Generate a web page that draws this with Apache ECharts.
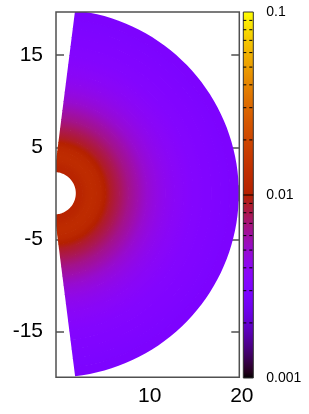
<!DOCTYPE html>
<html><head><meta charset="utf-8">
<script src="https://cdn.jsdelivr.net/npm/echarts@6/dist/echarts.min.js"></script>
<style>html,body{margin:0;padding:0;background:#fff}#c{width:309px;height:414px}</style>
</head><body><div id="c"></div>
<script>
// Radial profile of the field: boundary radii (plot units) and the value at each radius
const radii  = [2.3, 3.0, 3.5, 4.0, 4.5, 5.0, 5.5, 6.0, 7.0, 8.0, 9.0, 10, 11, 12, 13, 14, 15, 16, 17, 18, 19, 20];
const values = [0.0108, 0.0115, 0.0125, 0.0128, 0.0125, 0.0117, 0.0100, 0.0090, 0.0078, 0.0066, 0.0058, 0.0050, 0.0045, 0.0041, 0.0038, 0.0036, 0.0034, 0.0033, 0.0032, 0.0031, 0.0030, 0.0030];
// Wedge left edge (straight line), two points in plot units
const edgeBase = [0, 2.3];
const edgeTop  = [2.2, 19.7];
// Tick labels
const xTicks = [10, 20];
const yTicks = [-15, -5, 5, 15];
const cbTicks = [0.001, 0.01, 0.1];
const cbMinor = [0.002, 0.003, 0.004, 0.005, 0.006, 0.007, 0.008, 0.009, 0.02, 0.03, 0.04, 0.05, 0.06, 0.07, 0.08, 0.09];
const cbRange = [0.001, 0.1];

const FONT = "'Liberation Sans', Arial, sans-serif";
const BORDER = '#505050';

// gnuplot default palette (rgbformulae 7,5,15) on a log10 colour scale
function pal(v) {
  let x = (Math.log10(v) - Math.log10(cbRange[0])) / (Math.log10(cbRange[1]) - Math.log10(cbRange[0]));
  x = Math.max(0, Math.min(1, x));
  const r = Math.sqrt(x), g = x * x * x, b = Math.max(0, Math.sin(2 * Math.PI * x));
  return 'rgb(' + Math.round(r * 255) + ',' + Math.round(g * 255) + ',' + Math.round(b * 255) + ')';
}

function edgeAngle(r) {
  const k = (edgeTop[0] - edgeBase[0]) / (edgeTop[1] - edgeBase[1]);
  const y0 = edgeBase[1];
  if (r <= y0) return Math.PI / 2;
  const a = 1 + k * k, b = -2 * k * k * y0, c = k * k * y0 * y0 - r * r;
  const y = (-b + Math.sqrt(b * b - 4 * a * c)) / (2 * a);
  const x = k * (y - y0);
  return Math.atan2(y, x);
}

function ringItem(params, api) {
  const i = params.dataIndex;
  const rIn = radii[i];
  const rOutTrue = radii[i + 1];
  const last = i === radii.length - 2;
  const rOut = last ? rOutTrue : rOutTrue + 0.08;
  const tIn = edgeAngle(rIn), tOut = edgeAngle(rOut);
  const pts = [];
  const N = 72;
  for (let j = 0; j <= N; j++) {
    const th = -tOut + 2 * tOut * j / N;
    pts.push(api.coord([rOut * Math.cos(th), rOut * Math.sin(th)]));
  }
  for (let j = 0; j <= N; j++) {
    const th = tIn - 2 * tIn * j / N;
    pts.push(api.coord([rIn * Math.cos(th), rIn * Math.sin(th)]));
  }
  const c = api.coord([0, 0]);
  const rPx = api.size([rOut, 0])[0];
  const vIn = values[i], vOut = values[i + 1];
  const stops = [];
  const M = 4;
  for (let m = 0; m <= M; m++) {
    const t = m / M;
    const rr = rIn + (rOutTrue - rIn) * t;
    const vv = Math.exp(Math.log(vIn) + (Math.log(vOut) - Math.log(vIn)) * t);
    stops.push({ offset: rr / rOut, color: pal(vv) });
  }
  if (!last) stops.push({ offset: 1, color: pal(vOut) });
  return {
    type: 'polygon',
    shape: { points: pts },
    style: { fill: { type: 'radial', x: c[0], y: c[1], r: rPx, global: true, colorStops: stops } }
  };
}

function cbBarItem(params, api) {
  const p0 = api.coord([0, cbRange[1]]);
  const p1 = api.coord([1, cbRange[0]]);
  const stops = [];
  const S = 60;
  const l0 = Math.log10(cbRange[0]), l1 = Math.log10(cbRange[1]);
  for (let s = 0; s <= S; s++) {
    const t = s / S;
    stops.push({ offset: t, color: pal(Math.pow(10, l1 - (l1 - l0) * t)) });
  }
  return {
    type: 'rect',
    shape: { x: p0[0], y: p0[1], width: p1[0] - p0[0], height: p1[1] - p0[1] },
    style: { fill: { type: 'linear', x: 0, y: 0, x2: 0, y2: 1, colorStops: stops }, stroke: '#303030', lineWidth: 1 }
  };
}

function cbLineItem(dashed) {
  return function (params, api) {
    const v = api.value(0);
    const a = api.coord([0, v]), b = api.coord([1, v]);
    return {
      type: 'line',
      shape: { x1: a[0], y1: a[1], x2: b[0], y2: b[1] },
      style: { stroke: '#000', lineWidth: 1, lineDash: dashed ? [3, 3] : null }
    };
  };
}

const tickStyle = { color: BORDER, width: 1.5 };
const chart = echarts.init(document.getElementById('c'), null, { renderer: 'canvas' });
chart.setOption({
  animation: false,
  backgroundColor: '#fff',
  grid: [
    { left: 56, right: 309 - 239.3, top: 12, bottom: 414 - 377.3, show: true, borderColor: BORDER, borderWidth: 1.5, backgroundColor: 'transparent', z: 10 },
    { left: 243.3, right: 309 - 253.3, top: 12, bottom: 414 - 378 }
  ],
  xAxis: [
    { type: 'value', gridIndex: 0, min: 0.15, max: 20.05, position: 'bottom',
      axisLine: { show: false }, splitLine: { show: false },
      axisTick: { inside: true, length: 8, customValues: xTicks, lineStyle: tickStyle },
      axisLabel: { customValues: xTicks, fontSize: 21, color: '#000', margin: 8, fontFamily: FONT, padding: [0, 0, 0, 6] } },
    { type: 'value', gridIndex: 0, min: 0.15, max: 20.05, position: 'top',
      axisLine: { show: false }, splitLine: { show: false },
      axisTick: { inside: true, length: 8, customValues: xTicks, lineStyle: tickStyle },
      axisLabel: { show: false } },
    { type: 'value', gridIndex: 1, min: 0, max: 1, show: false }
  ],
  yAxis: [
    { type: 'value', gridIndex: 0, min: -20, max: 19.7, position: 'left',
      axisLine: { show: false }, splitLine: { show: false },
      axisTick: { inside: true, length: 8, customValues: yTicks, lineStyle: tickStyle },
      axisLabel: { customValues: yTicks, fontSize: 21, color: '#000', margin: 13, fontFamily: FONT } },
    { type: 'value', gridIndex: 0, min: -20, max: 19.7, position: 'right',
      axisLine: { show: false }, splitLine: { show: false },
      axisTick: { inside: true, length: 8, customValues: yTicks, lineStyle: tickStyle },
      axisLabel: { show: false } },
    { type: 'log', gridIndex: 1, logBase: 10, min: cbRange[0], max: cbRange[1], position: 'right',
      axisLine: { show: false }, splitLine: { show: false }, axisTick: { show: false },
      axisLabel: { customValues: cbTicks, fontSize: 14, color: '#000', margin: 13, fontFamily: FONT,
        formatter: function (v) { return String(+(+v).toPrecision(1)); } } }
  ],
  series: [
    { type: 'custom', xAxisIndex: 0, yAxisIndex: 0, clip: true, renderItem: ringItem,
      data: radii.slice(0, -1).map(function (r, i) { return [i]; }) },
    { type: 'custom', xAxisIndex: 2, yAxisIndex: 2, renderItem: cbBarItem, data: [[0]], z: 2 },
    { type: 'custom', xAxisIndex: 2, yAxisIndex: 2, renderItem: cbLineItem(true), data: cbMinor.map(function (v) { return [v]; }), z: 3 },
    { type: 'custom', xAxisIndex: 2, yAxisIndex: 2, renderItem: cbLineItem(false), data: [[cbTicks[1]]], z: 3 }
  ]
});
</script>
</body></html>
